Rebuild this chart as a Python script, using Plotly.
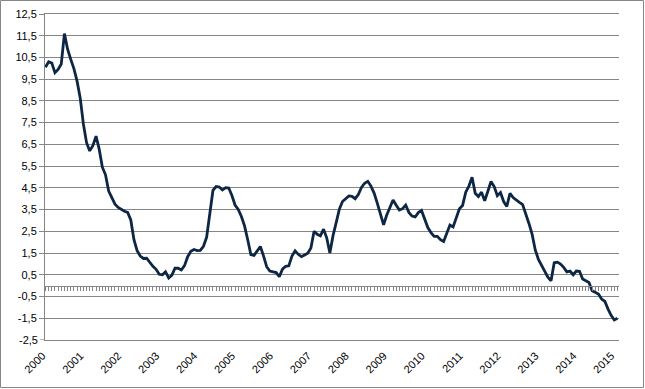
import plotly.graph_objects as go

years = [str(y) for y in range(2000, 2016)]
values = [
    10.05, 10.30, 10.24, 9.80, 9.95, 10.20, 11.60, 10.88, 10.41, 9.99,
    9.41, 8.63, 7.44, 6.58, 6.20, 6.44, 6.88, 6.28, 5.45, 5.10,
    4.35, 4.01, 3.75, 3.60, 3.49, 3.42, 3.37, 3.02, 2.11, 1.61,
    1.36, 1.25, 1.26, 1.07, 0.89, 0.75, 0.52, 0.50, 0.64, 0.35,
    0.48, 0.80, 0.80, 0.72, 0.92, 1.33, 1.58, 1.66, 1.61, 1.62,
    1.81, 2.23, 3.26, 4.38, 4.56, 4.54, 4.40, 4.51, 4.49, 4.15,
    3.71, 3.51, 3.18, 2.75, 2.11, 1.43, 1.39, 1.61, 1.80, 1.37,
    0.87, 0.67, 0.65, 0.60, 0.41, 0.76, 0.89, 0.91, 1.36, 1.60,
    1.44, 1.33, 1.41, 1.49, 1.73, 2.50, 2.36, 2.29, 2.60, 2.20,
    1.50, 2.30, 2.90, 3.52, 3.87, 3.98, 4.13, 4.11, 4.00, 4.19,
    4.52, 4.71, 4.80, 4.58, 4.26, 3.80, 3.35, 2.80, 3.25, 3.56,
    3.94, 3.70, 3.48, 3.54, 3.71, 3.37, 3.20, 3.16, 3.36, 3.46,
    3.09, 2.67, 2.44, 2.27, 2.27, 2.11, 2.03, 2.39, 2.79, 2.70,
    3.12, 3.54, 3.69, 4.30, 4.58, 4.99, 4.25, 4.10, 4.30, 3.90,
    4.34, 4.79, 4.56, 4.14, 4.28, 3.87, 3.64, 4.25, 4.05, 3.96,
    3.83, 3.73, 3.33, 2.86, 2.37, 1.64, 1.21, 0.92, 0.67, 0.39,
    0.22, 1.05, 1.08, 0.99, 0.84, 0.63, 0.67, 0.50, 0.67, 0.66,
    0.30, 0.23, 0.14, -0.24, -0.32, -0.39, -0.62, -0.72, -1.07, -1.37,
    -1.58, -1.50,
]
ytick_vals = [-2.5 + i for i in range(16)]
ytick_text = [("%.1f" % v).replace(".", ",") for v in ytick_vals]

months = list(range(len(values)))
grid = "#868686"
font = dict(family="Liberation Sans, Arial, sans-serif", size=11, color="#000000")

fig = go.Figure()
fig.add_trace(go.Scatter(x=months, y=values, mode="lines",
                         line=dict(color="#0D2644", width=2.8),
                         hoverinfo="skip", showlegend=False))
fig.add_trace(go.Scatter(x=[0], y=[None], xaxis="x2", yaxis="y",
                         mode="lines", showlegend=False, hoverinfo="skip"))

xr = [-0.15, 181.5]
yr = [-2.503, 12.5]
W, H = 645, 389
ml, mr, mt, mb = 45, 26, 14, 49
pw, ph = W - ml - mr, H - mt - mb

fig.update_layout(
    width=W, height=H, autosize=False,
    margin=dict(l=ml, r=mr, t=mt, b=mb, pad=0, autoexpand=False),
    paper_bgcolor="white", plot_bgcolor="white",
    font=font,
    xaxis=dict(range=xr, tickvals=[12 * i for i in range(len(years))],
               ticktext=years, tickangle=-45, showgrid=False, zeroline=False,
               showline=True, mirror=True, linecolor=grid, linewidth=1,
               ticks="", automargin=False, ticklabelstandoff=4,
               ticklabelshift=-3, tickfont=font),
    xaxis2=dict(range=xr, overlaying="x", anchor="free",
                position=(0 - yr[0]) / (yr[1] - yr[0]),
                showgrid=False, zeroline=False, showline=True, linecolor=grid,
                linewidth=1, ticks="outside", ticklen=4, tickcolor=grid,
                tick0=0, dtick=1, showticklabels=False, automargin=False),
    yaxis=dict(range=yr, tickvals=ytick_vals[1:], ticktext=ytick_text[1:],
               showgrid=True, gridcolor=grid, gridwidth=1, zeroline=False,
               showline=True, linecolor=grid, linewidth=1, automargin=False,
               ticks="outside", ticklen=5, tickcolor=grid, tickfont=font),
    annotations=[dict(text=ytick_text[0], xref="paper", yref="y", x=0,
                      y=ytick_vals[0], xanchor="right", yanchor="middle",
                      xshift=-6, showarrow=False, font=font, borderpad=0)],
    shapes=[dict(type="line", xref="paper", yref="y", x0=-5 / pw, x1=0,
                 y0=ytick_vals[0], y1=ytick_vals[0],
                 line=dict(color=grid, width=1)),
            dict(type="rect", xref="paper", yref="paper",
                 x0=(0.5 - ml) / pw, x1=(W - 1.5 - ml) / pw,
                 y0=-(H - 1.5 - mt - ph) / ph, y1=1 + (mt - 0.5) / ph,
                 line=dict(color=grid, width=1), fillcolor="rgba(0,0,0,0)",
                 layer="below")],
)

fig.write_html("out.html",
               config={"displayModeBar": False, "staticPlot": True},
               post_script="document.body.style.margin='0';"
                           "document.body.style.overflow='hidden';")
